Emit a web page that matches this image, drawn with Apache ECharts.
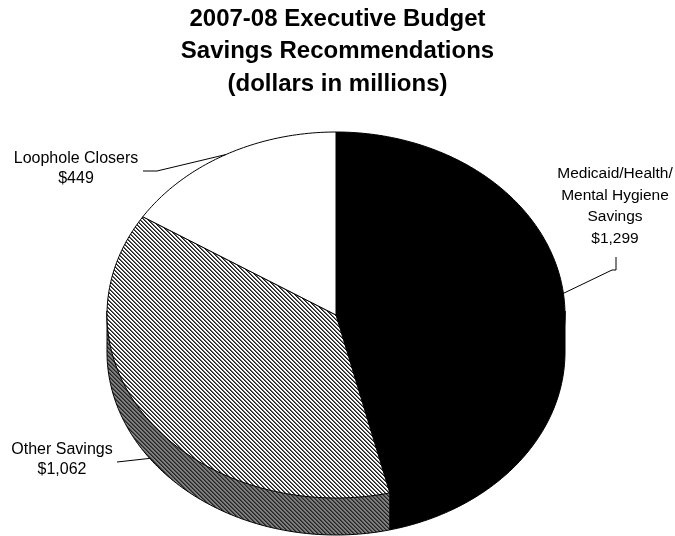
<!DOCTYPE html>
<html>
<head>
<meta charset="utf-8">
<script src="https://cdn.jsdelivr.net/npm/echarts@6/dist/echarts.min.js"></script>
<style>
  html, body { margin: 0; padding: 0; background: #fff; }
  #chart { width: 675px; height: 536px; }
</style>
</head>
<body>
<div id="chart"></div>
<script>
// Savings recommendations, dollars in millions
const sliceNames = ['Medicaid/Health/\nMental Hygiene\nSavings', 'Other Savings', 'Loophole Closers'];
const sliceValues = [1299, 1062, 449];
const titleLines = ['2007-08 Executive Budget', 'Savings Recommendations', '(dollars in millions)'];

// Tilted pie geometry (top face ellipse + wall depth), in pixels
const PIE = { cx: 336, cy: 315, rx: 229, ry: 183, depth: 37 };
const FONT = '"Liberation Sans", Arial, Helvetica, sans-serif';

// Small repeating tile with "\" diagonal stripes
function hatch(bg, dark, mid) {
  const c = document.createElement('canvas');
  c.width = 4; c.height = 4;
  const ctx = c.getContext('2d');
  ctx.fillStyle = bg;
  ctx.fillRect(0, 0, 4, 4);
  for (let y = 0; y < 4; y++) {
    for (let x = 0; x < 4; x++) {
      const d = (((x - y) % 4) + 4) % 4;
      if (d === 0) { ctx.fillStyle = dark; ctx.fillRect(x, y, 1, 1); }
      else if (d === 1) { ctx.fillStyle = mid; ctx.fillRect(x, y, 1, 1); }
    }
  }
  return c;
}

const sliceStyles = [
  { top: '#000000', side: '#000000' },
  { top: { image: hatch('#ffffff', '#1a1a1a', '#6a6a6a'), repeat: 'repeat' },
    side: { image: hatch('#7e7e7e', '#222222', '#4a4a4a'), repeat: 'repeat' } },
  { top: '#ffffff', side: '#ffffff' }
];

// Label anchors, text sizes and leader-line elbows; the last leader point is the slice midpoint
const labelLayout = [
  { x: 615, y: 163, size: 15.5, lh: 21.5, line: [[616, 257], [616, 270], [612, 270]], onWall: false },
  { x: 62, y: 440, size: 16, lh: 20, line: [[117, 462]], onWall: true },
  { x: 76, y: 149, size: 16, lh: 20, line: [[143, 171], [157, 171]], onWall: false }
];

const total = sliceValues.reduce((a, b) => a + b, 0);

// angle in degrees, clockwise from 12 o'clock
function pt(deg, dz) {
  const t = deg * Math.PI / 180;
  return [PIE.cx + PIE.rx * Math.sin(t), PIE.cy - PIE.ry * Math.cos(t) + (dz || 0)];
}
function arc(a0, a1, dz) {
  const pts = [];
  const n = Math.max(2, Math.ceil(Math.abs(a1 - a0)));
  for (let i = 0; i <= n; i++) pts.push(pt(a0 + (a1 - a0) * i / n, dz));
  return pts;
}
function money(v) {
  return '$' + v.toLocaleString('en-US');
}

function renderItem(params, api) {
  const i = params.dataIndex;
  const v = api.value(0);
  let before = 0;
  for (let k = 0; k < i; k++) before += sliceValues[k];
  const a0 = before / total * 360;
  const a1 = (before + v) / total * 360;
  const st = sliceStyles[i];
  const children = [];

  // front wall, visible between 3 and 9 o'clock; its upper edge tucks under the top face
  const s = Math.max(a0, 90), e = Math.min(a1, 270);
  if (e > s) {
    children.push({
      type: 'polygon',
      z2: 1,
      shape: { points: arc(s, e, -4).concat(arc(e, s, PIE.depth)) },
      style: { fill: st.side, stroke: '#000', lineWidth: 1 }
    });
  }

  // top face
  children.push({
    type: 'polygon',
    z2: 5,
    shape: { points: [[PIE.cx, PIE.cy]].concat(arc(a0, a1, 0)) },
    style: { fill: st.top, stroke: '#000', lineWidth: 1 }
  });

  // leader line and label
  const lay = labelLayout[i];
  const mid = pt((a0 + a1) / 2, lay.onWall ? PIE.depth : 0);
  children.push({
    type: 'polyline',
    z2: 10,
    shape: { points: lay.line.concat([mid]) },
    style: { stroke: '#000', lineWidth: 1, fill: null }
  });
  children.push({
    type: 'text',
    z2: 10,
    style: {
      text: sliceNames[i] + '\n' + money(v),
      x: lay.x,
      y: lay.y,
      align: 'center',
      verticalAlign: 'top',
      fontSize: lay.size,
      fontFamily: FONT,
      lineHeight: lay.lh,
      fill: '#000'
    }
  });

  return { type: 'group', children: children };
}

const chart = echarts.init(document.getElementById('chart'), null, { renderer: 'canvas' });
chart.setOption({
  backgroundColor: '#ffffff',
  animation: false,
  title: {
    text: titleLines.join('\n'),
    left: 'center',
    top: -2,
    textStyle: {
      fontFamily: FONT,
      fontSize: 24,
      fontWeight: 'bold',
      lineHeight: 32.5,
      color: '#000'
    }
  },
  series: [{
    type: 'custom',
    coordinateSystem: 'none',
    renderItem: renderItem,
    data: sliceValues.map((v, i) => ({ name: sliceNames[i], value: v }))
  }]
});
</script>
</body>
</html>
